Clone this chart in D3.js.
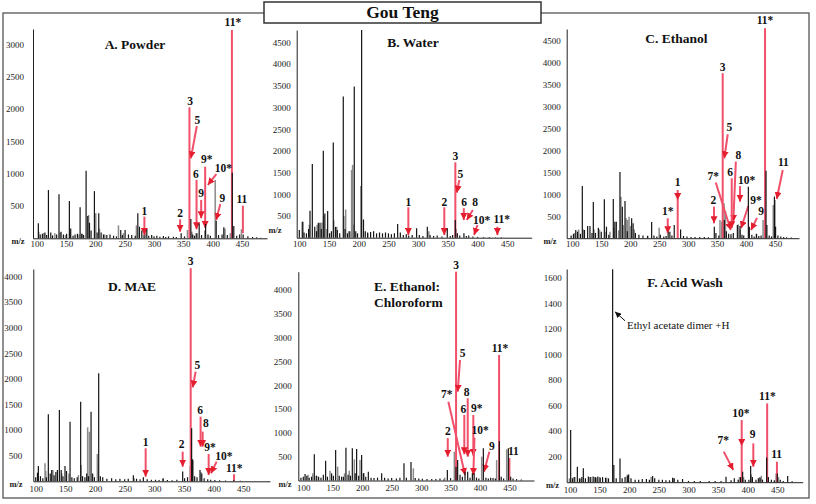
<!DOCTYPE html>
<html><head><meta charset="utf-8">
<script src="https://cdn.jsdelivr.net/npm/d3@7"></script>
<style>
body{margin:0;background:#fff}
svg text{font-family:"Liberation Serif","Times New Roman",serif}
</style>
</head><body>
<svg id="c" width="816" height="504"></svg>
<script>
// ---------------- DATA ----------------
const mainTitle = "Gou Teng";
const panelNames = [["A. Powder"],["B. Water"],["C. Ethanol"],["D. MAE"],["E. Ethanol:","Chloroform"],["F. Acid Wash"]];
const xTickValues = [100,150,200,250,300,350,400,450];
const yTicksA = [500,1000,1500,2000,2500,3000];
const yTicksB = [500,1000,1500,2000,2500,3000,3500,4000,4500];
const yTicksC = [500,1000,1500,2000,2500,3000,3500,4000,4500];
const yTicksD = [500,1000,1500,2000,2500,3000,3500,4000];
const yTicksE = [500,1000,1500,2000,2500,3000,3500,4000];
const yTicksF = [200,400,600,800,1000,1200,1400,1600];

// [m/z, intensity]
const blackA = [[102.8,232],[106,60],[109.7,70],[114,90],[117,50],[120,747],[124,90],[127,45],[134,60],[138,680],[141.5,100],[145.5,60],[151,70],[155.7,577],[158,150],[162,40],[165.4,60],[169.4,70],[174,480],[176.8,70],[180,50],[184.2,1046],[187,345],[190,240],[192.7,120],[198.4,730],[203,90],[205.8,386],[209.8,90],[213.8,60],[219.5,50],[225,60],[231,40],[236,30],[243.3,130],[246,50],[250.7,130],[256.4,60],[262,50],[268,40],[272.4,386],[275.2,180],[279.2,120],[283,50],[287.7,139],[291,40],[296,50],[300,30],[304.8,40],[310,25],[316,35],[320,20],[324.7,30],[333,25],[338,20],[346.3,77],[352,30],[362.8,297],[366,60],[369,40],[372,80],[377,230],[381,50],[388,220],[392,60],[396,40],[406,270],[410,50],[416,60],[419,170],[425,50],[433.5,1016],[436,190],[441,40],[446,60],[452,60],[460,30],[468,20],[475,15],[482,10]];
const grayA = [[103.5,100],[112,80],[131,80],[140,90],[149,50],[157,100],[172,60],[178,70],[188.5,360],[200.7,386],[207,150],[216,60],[239.4,200],[248,80],[270,200],[285,80],[357,129],[364.5,100],[374,80],[386.5,120],[404.3,903],[421,150],[430,80],[449,140]];
const notesA = [["11*",434.4,3290,432.8,3225,432.8,0,0],["3",361.6,2065,360.4,2028,360.4,0,0],["5",374,1770,373,1738,362.8,1238,1],["9*",390,1160,387.2,1108,387.2,160,1],["10*",418.4,1030,406.2,995,391.8,825,1],["6",371.5,940,372.5,905,372.5,139,1],["9",380.4,635,380.4,593,380.4,310,1],["9",416.7,560,413,530,406,283,1],["2",344.5,330,344.5,294,344.5,102,1],["11",449.8,540,451.5,505,451.5,80,0],["1",283.6,365,283.6,335,283.6,50,1]];

const blackB = [[100,177],[105,370],[108,120],[112,100],[115.6,200],[118,620],[121.9,1697],[126,250],[129,150],[132,345],[134.8,345],[137,200],[140.4,2005],[143,560],[147.7,615],[151,100],[154,150],[157.2,2190],[161,250],[164,177],[168,100],[174,3250],[177,200],[181,100],[185,150],[192.5,3480],[195,150],[198,100],[204.9,4785],[208,420],[211,150],[215,120],[220,130],[225,150],[230,100],[235,120],[240,100],[245,120],[250,100],[255,80],[260,100],[265.5,315],[270,120],[275,60],[280,80],[284,50],[290,60],[297.4,215],[302,60],[308,40],[315.4,253],[320,60],[326,40],[332,50],[340,30],[349,216],[354,40],[358,60],[362.5,407],[366,100],[370,50],[377,100],[381,40],[385,50],[392,30],[400,20],[410,15],[420,15],[430,10],[440,10]];
const grayB = [[106.5,370],[117,300],[130,300],[138,350],[141,500],[146,200],[158,400],[163,250],[175,500],[178,650],[183,150],[188,1560],[189.7,1675],[191,300],[203.5,1190],[215,100],[318,150],[364,200]];
const notesB = [["3",362.6,1790,362.6,1736,362.6,0,0],["5",371.2,1380,369.3,1330,365,1037,1],["6",377.2,720,376.8,680,376.8,408,1],["8",396,720,392,640,381.8,408,1],["10*",407,320,399.7,292,394.1,62,1],["11*",440.7,330,433.3,253,433.3,62,1],["1",283.5,740,283.5,700,283.5,62,1],["2",344,740,344,700,344,62,1]];

const blackC = [[98,60],[102,100],[106,187],[109,150],[114,100],[117.3,1190],[121,187],[126.5,278],[130.5,278],[134,120],[136.3,826],[140,120],[145,240],[150,150],[155.3,887],[159,263],[163,80],[170.8,894],[173.5,377],[176,377],[182.3,1511],[186.4,720],[191,850],[195,160],[202.5,453],[205,340],[209,120],[215,80],[222,60],[230,50],[237,370],[241,60],[246,40],[252,80],[258,40],[262,50],[267,150],[272,60],[276,300],[287,200],[292,50],[298,40],[305,30],[312,30],[320,25],[328,25],[335,20],[345.2,263],[348,120],[353,60],[362.5,415],[366,160],[370,100],[374,90],[378,120],[385,300],[389.6,280],[393,80],[396,60],[404,1176],[405.7,263],[410,80],[414,40],[418,100],[422,50],[426,60],[434.5,1541],[436,300],[440,60],[444,40],[449,950],[451,263],[455,60],[460,40],[465,30],[470,20],[478,15]];
const grayC = [[104,120],[111,200],[119,200],[137.5,200],[147,200],[158,150],[165,150],[172,240],[180,180],[184,947],[188,300],[193,453],[195.5,415],[198,490],[200,280],[207,200],[230,60],[250,240],[265,300],[269,150],[355,415],[358,377],[362,800],[364.5,620],[386.7,316],[390,200],[418,100],[429.4,415],[447,758],[450,870]];
const notesC = [["11*",432.8,4880,432.8,4792,432.8,0,0],["3",359.7,3825,359.7,3765,359.7,0,0],["5",371.2,2440,368.4,2372,362.5,1824,1],["8",386.7,1810,382.4,1747,378,377,1],["7*",343.5,1330,347.7,1270,373.6,187,1],["6",372.4,1430,375.3,1367,375.3,226,1],["10*",401.2,1240,389.6,1190,389.6,833,1],["9*",417,790,404,740,391.4,226,1],["9",426,520,419,465,408.6,187,1],["2",343.5,780,344.7,720,344.7,340,1],["11",464.4,1640,463.4,1557,453,895,1],["1",282,1200,282,1100,282,872,1],["",282,0,282,872,282,0,0],["1*",264.8,520,264.8,454,264.8,112,1]];

const blackD = [[100,80],[103,169],[104.5,300],[108,100],[112,60],[118,80],[121.3,1307],[124.5,150],[127,220],[131,120],[134,180],[136.6,220],[139.9,1391],[143,220],[146,100],[149.4,300],[152,200],[157.9,1163],[161,80],[165,60],[170,80],[175.8,1553],[179,100],[183,80],[186,150],[189,100],[193.3,1358],[196,150],[199,80],[206.2,2106],[209,100],[213,80],[220,50],[228,60],[235,40],[242,50],[250,40],[256,50],[264.6,120],[270,50],[276,40],[281.5,80],[288,40],[295,30],[302,30],[308,25],[315,60],[322,25],[330,20],[338,30],[347.8,190],[351,60],[356,80],[362.9,1033],[364.6,429],[368,100],[372,80],[377,220],[380,150],[384,60],[390,40],[395,30],[402,25],[410,20],[420,15],[434,20],[445,10]];
const grayD = [[115.7,351],[117,200],[129,220],[144,150],[156,150],[172,120],[176.5,318],[187.6,1053],[190.4,968],[203.9,533],[205,300],[266,60],[314,50],[360.5,300],[365,400],[378.5,180]];
const notesD = [["3",361.3,4230,361.3,4160,361.3,0,0],["5",372.4,2200,369.7,2140,364.7,1830,1],["6",377,1310,378,1262,378,676,1],["8",387,1050,381.5,969,381.5,676,1],["9*",393.8,585,391.6,533,391.6,123,1],["10*",417.4,410,405.1,383,395.5,156,1],["11*",434.8,176,434.3,137,434.3,0,0],["2",346.1,650,347.8,578,347.8,285,1],["1",285.4,690,285.4,644,285.4,90,1]];

const blackE = [[96,60],[100,80],[103,136],[106,100],[110,60],[114,80],[118.7,549],[122,100],[126,80],[130,60],[134,120],[137.9,416],[141,80],[148,150],[151,100],[154.9,640],[161,100],[165,80],[168,80],[172.4,689],[176,120],[180,100],[183.2,675],[188,150],[190.5,661],[194,100],[199,535],[202,150],[206,80],[210.4,185],[215,60],[220,50],[226,60],[233,150],[238,60],[244,40],[250,50],[258,40],[264,60],[270.9,360],[275,60],[282.8,388],[290,50],[296,40],[302,35],[310,30],[318,30],[325,30],[332,40],[338,20],[344.5,220],[350,50],[359.2,290],[362,430],[366,120],[370,80],[374.5,185],[379,185],[383,60],[387,150],[390,150],[394,60],[398,40],[405.6,676],[410,60],[414,40],[418,60],[422,50],[426,40],[432.8,830],[436,80],[440,40],[448,676],[452,80],[456,40],[462,30],[470,20]];
const grayE = [[108,120],[116,150],[123,100],[145.3,206],[158.3,290],[170,150],[178,206],[186.6,444],[196.2,430],[203,160],[286.8,255],[340,60],[356.4,605],[361,400],[402.8,500],[428.2,430],[445.2,655]];
const notesE = [["3",359.3,4440,359.3,4385,359.3,0,0],["5",370.6,2600,366,2530,362.1,1865,1],["8",377.4,1780,379.1,1726,379.1,500,1],["6",371.6,1425,373.3,1375,373.3,550,1],["7*",343.5,1740,346.2,1655,374.5,115,1],["9*",394.4,1430,388.6,1375,388.6,520,1],["10*",400,976,390.5,900,388.6,115,1],["2",345.2,945,345.2,890,345.2,500,1],["9",419.9,650,415.8,605,406.8,185,1],["11*",434,2700,432.3,2635,432.3,0,0],["11",456.5,535,449.8,472,449.8,0,0]];

const blackF = [[101.1,408],[104,30],[108,40],[112.4,121],[116,30],[120,40],[122.5,109],[126,30],[131,45],[135,40],[139,45],[143,40],[147,45],[151,35],[155,40],[160,35],[165,30],[172,1667],[174,135],[178,30],[184.4,186],[188,30],[193,40],[196.8,51],[199,60],[203,30],[210,20],[216,20],[222,25],[229,25],[234,20],[239.5,48],[243,30],[250,20],[256,20],[262,15],[268,15],[273.3,35],[276,30],[282,20],[290,25],[300,10],[310,10],[320,10],[335,10],[345,10],[355,10],[363.4,43],[372,15],[377.4,30],[384,20],[388,40],[391.5,81],[396,20],[402,20],[405,127],[408,40],[414,20],[418,30],[421,35],[425,20],[432,194],[435,40],[440,20],[445,15],[450,69],[455,20],[460,10],[467.5,48],[475,8]];
const grayF = [[99,30],[106,40],[118,30],[133,40],[141,40],[145,35],[150,40],[162,35],[197,60],[237,40],[274,30],[386,40],[393,40],[406,60],[420,40],[423,50],[448,69],[452,40]];
const notesF = [["11*",433.2,645,432.9,617,432.9,0,0],["10*",388.3,510,389.9,486,389.9,283,1],["",389.9,0,389.9,283,389.9,0,0],["9",408.5,345,409.5,304,409.5,121,1],["7*",358.8,300,359.5,239,375.7,95,1],["11",448.9,190,449.4,160,449.4,0,0]];
const calloutF = ["Ethyl acetate dimer +H",196.2,1198,192.9,1263,176,1333];

const panels = [
  {black:blackA, gray:grayA, notes:notesA, yTicks:yTicksA},
  {black:blackB, gray:grayB, notes:notesB, yTicks:yTicksB},
  {black:blackC, gray:grayC, notes:notesC, yTicks:yTicksC},
  {black:blackD, gray:grayD, notes:notesD, yTicks:yTicksD},
  {black:blackE, gray:grayE, notes:notesE, yTicks:yTicksE},
  {black:blackF, gray:grayF, notes:notesF, yTicks:yTicksF}
];

// ---------------- LAYOUT ----------------
const layouts = [
 {ax:33,   x100:36.7,  x450:242,   xEnd:267,   y0:238.3, refV:3000, yRef:44.5,  yTop:29,    pad:9,   xpad:2,   title:[135,48.5,"middle"], mz:[18,244]},
 {ax:296.7,x100:299.3, x450:507.3, xEnd:531.7, y0:237.7, refV:4500, yRef:42.3,  yTop:30,    pad:6,   xpad:3,   title:[413,46.5,"middle"], mz:[275,233]},
 {ax:566.7,x100:572.3, x450:775,   xEnd:799,   y0:238.2, refV:4500, yRef:41,    yTop:29,    pad:6,   xpad:2,   title:[676.5,42.5,"middle"], mz:[550,244]},
 {ax:33.3, x100:35.7,  x450:243.3, xEnd:270,   y0:481.3, refV:4000, yRef:276.3, yTop:269,   pad:11,  xpad:4.5, title:[132,290.5,"middle"], mz:[16,486.5]},
 {ax:298.3,x100:303.3, x450:509.5, xEnd:534,   y0:480.5, refV:4000, yRef:290,   yTop:271.7, pad:6.5, xpad:4.5, title:[374,290.5,"start"], mz:[285,486.5]},
 {ax:566.7,x100:570,   x450:777.3, xEnd:802.7, y0:482.2, refV:1600, yRef:277.7, yTop:269,   pad:5,   xpad:4.5, title:[685,286.5,"middle"], mz:[552.5,488]}
];

const RED_LINE = "#f0506a", RED_HEAD = "#e41e2e";

const svg = d3.select("#c");
const defs = svg.append("defs");
function marker(id, color, size){
  defs.append("marker").attr("id", id).attr("viewBox","0 0 10 10")
    .attr("refX",10).attr("refY",5).attr("markerWidth",size).attr("markerHeight",size)
    .attr("markerUnits","userSpaceOnUse").attr("orient","auto")
    .append("path").attr("d","M0,0L10,5L0,10Z").attr("fill",color);
}
marker("ar", RED_HEAD, 7);
marker("ak", "#111", 6);

// outer frame
svg.append("rect").attr("x",3).attr("y",13).attr("width",806).attr("height",485)
  .attr("fill","none").attr("stroke","#555").attr("stroke-width",1.3);
// title box
svg.append("rect").attr("x",264).attr("y",2).attr("width",277).attr("height",21)
  .attr("fill","#fff").attr("stroke","#333").attr("stroke-width",1.5);
svg.append("text").attr("x",402.5).attr("y",17.5).attr("text-anchor","middle")
  .attr("font-size",17.5).attr("font-weight","bold").attr("fill","#111").text(mainTitle);

const fmt = d3.format("d");

panels.forEach((P, i) => {
  const L = layouts[i];
  const g = svg.append("g");
  const k = 350/(L.x450 - L.x100);
  const xs = d3.scaleLinear()
    .domain([100 + (L.ax - L.x100)*k, 100 + (L.xEnd - L.x100)*k])
    .range([L.ax, L.xEnd]);
  const vTop = L.refV*(L.y0 - L.yTop)/(L.y0 - L.yRef);
  const ys = d3.scaleLinear().domain([0, vTop]).range([L.y0, L.yTop]);

  // gray spectrum
  g.append("g").selectAll("line").data(P.gray).join("line")
    .attr("x1", d => xs(d[0])).attr("x2", d => xs(d[0]))
    .attr("y1", ys(0)).attr("y2", d => ys(d[1]))
    .attr("stroke","#8a8a8a").attr("stroke-width",1.5);

  // red annotation lines
  g.append("g").selectAll("line").data(P.notes).join("line")
    .attr("x1", d => xs(d[3])).attr("y1", d => ys(d[4]))
    .attr("x2", d => xs(d[5])).attr("y2", d => ys(d[6]))
    .attr("stroke", RED_LINE).attr("stroke-width", 2)
    .attr("marker-end", d => d[7] ? "url(#ar)" : null);

  // black spectrum
  g.append("g").selectAll("line").data(P.black).join("line")
    .attr("x1", d => xs(d[0])).attr("x2", d => xs(d[0]))
    .attr("y1", ys(0)).attr("y2", d => ys(d[1]))
    .attr("stroke","#141414").attr("stroke-width",1.2);

  // annotation labels
  g.append("g").selectAll("text").data(P.notes.filter(d => d[0] !== "")).join("text")
    .attr("x", d => xs(d[1])).attr("y", d => ys(d[2]))
    .attr("text-anchor","middle").attr("font-size",11.5).attr("font-weight","bold")
    .attr("fill","#111").text(d => d[0]);

  // axes
  const xa = g.append("g").attr("transform", `translate(0,${L.y0})`)
    .call(d3.axisBottom(xs).tickValues(xTickValues).tickFormat(fmt).tickSize(0).tickPadding(L.xpad).tickSizeOuter(0));
  const ya = g.append("g").attr("transform", `translate(${L.ax},0)`)
    .call(d3.axisLeft(ys).tickValues(P.yTicks).tickFormat(fmt).tickSize(0).tickPadding(L.pad).tickSizeOuter(0));
  [xa, ya].forEach(a => {
    a.attr("font-family", null).attr("font-size", null);
    a.select(".domain").attr("stroke","#222").attr("stroke-width",1);
    a.selectAll("text").attr("font-size",9).attr("fill","#222")
      .style("font-family",'"Liberation Serif","Times New Roman",serif');
  });

  // m/z label
  g.append("text").attr("x", L.mz[0]).attr("y", L.mz[1]).attr("text-anchor","middle")
    .attr("font-size",8.5).attr("font-weight","bold").attr("fill","#222").text("m/z");

  // panel title
  panelNames[i].forEach((t, j) => {
    g.append("text").attr("x", L.title[0]).attr("y", L.title[1] + j*16.5)
      .attr("text-anchor", L.title[2]).attr("font-size",13.5).attr("font-weight","bold")
      .attr("fill","#111").text(t);
  });

  if (i === 5) {
    const c = calloutF;
    g.append("line").attr("x1", xs(c[3])).attr("y1", ys(c[4])).attr("x2", xs(c[5])).attr("y2", ys(c[6]))
      .attr("stroke","#111").attr("stroke-width",1).attr("marker-end","url(#ak)");
    g.append("text").attr("x", xs(c[1])).attr("y", ys(c[2])).attr("font-size",11)
      .attr("fill","#111").text(c[0]);
  }
});
</script>
</body></html>
